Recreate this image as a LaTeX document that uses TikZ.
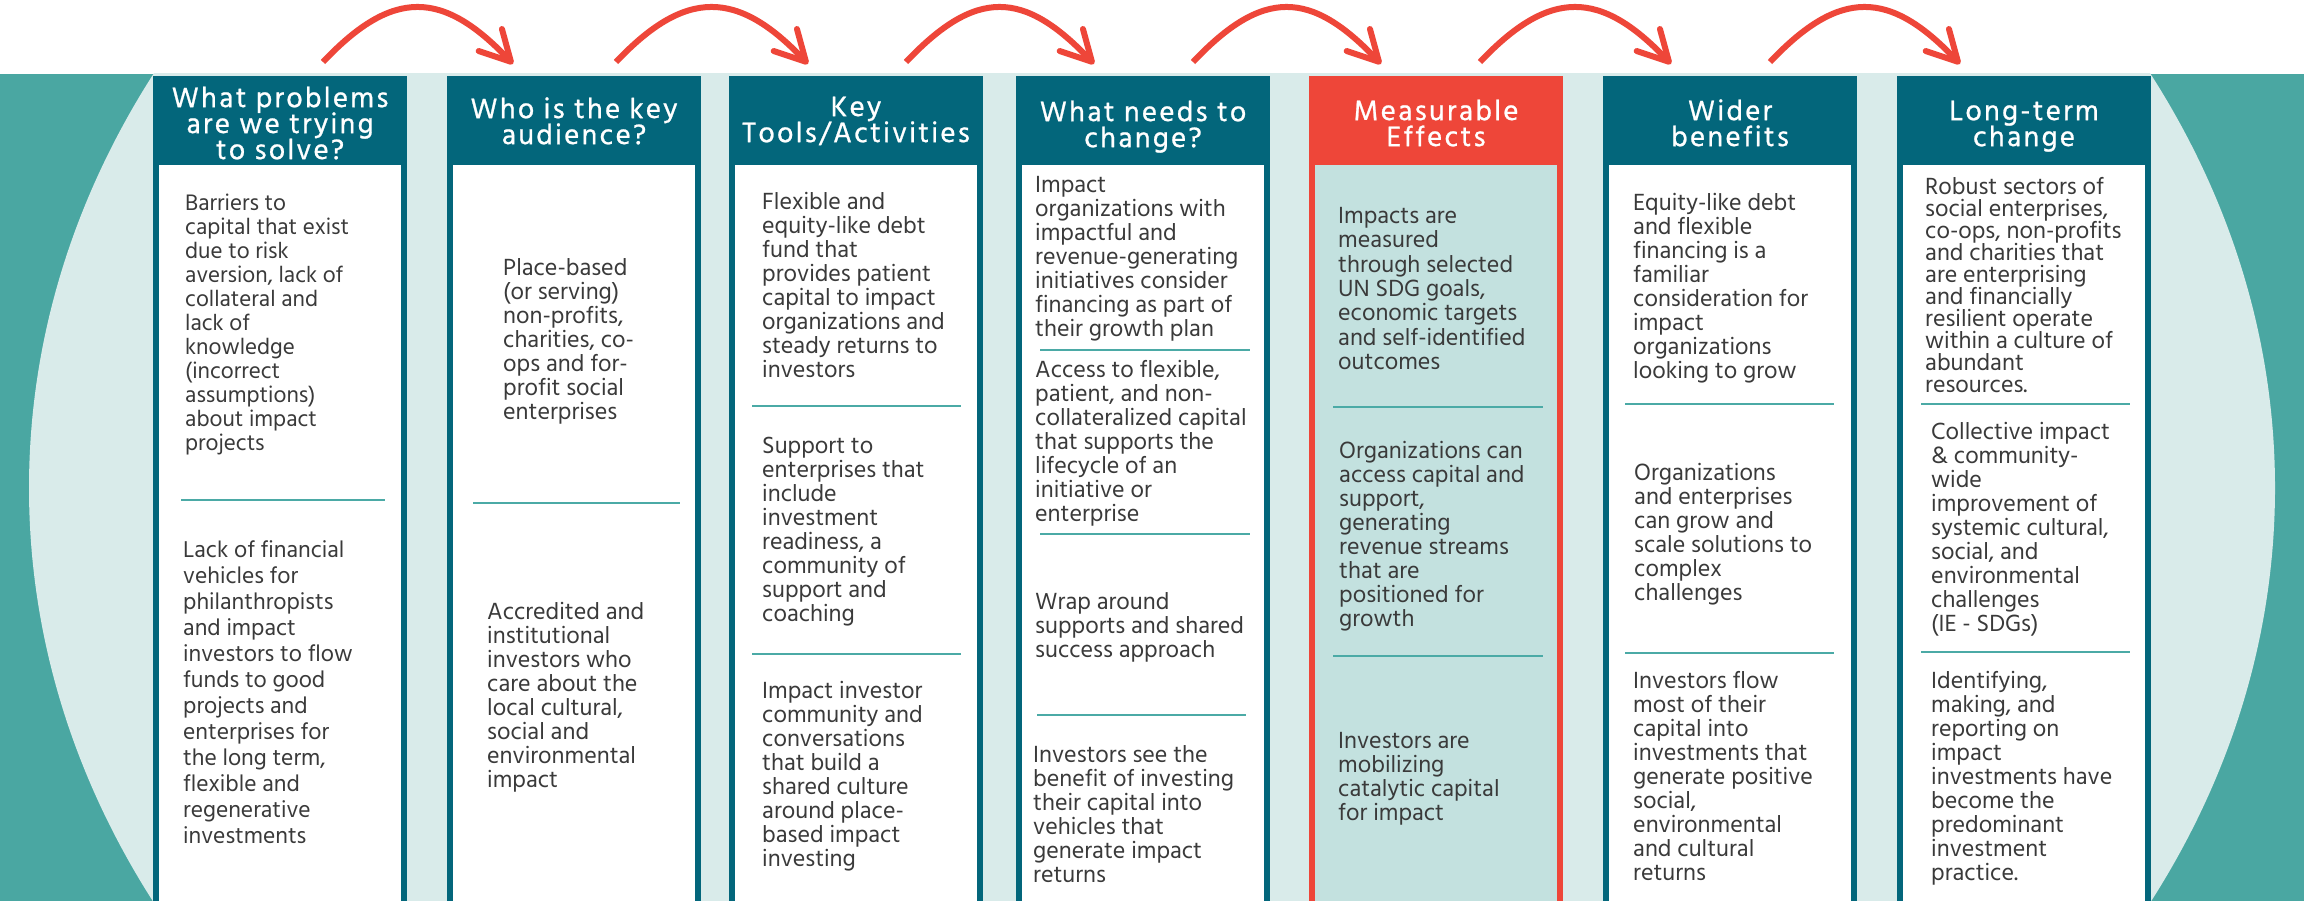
\documentclass[tikz,border=0pt]{standalone}
\usepackage{fontspec}
\usetikzlibrary{arrows.meta}
\newfontfamily\bodyf{Hind Madurai}
\newfontfamily\headf{Hind Madurai}[LetterSpace=8.0,FakeBold=0.8]
\definecolor{dteal}{HTML}{03667B}
\definecolor{lteal}{HTML}{D9EBEA}
\definecolor{mteal}{HTML}{4AA7A2}
\definecolor{redc}{HTML}{EE4639}
\definecolor{boxfill}{HTML}{C3E1DF}
\definecolor{septeal}{HTML}{4BAAA6}
\definecolor{txt}{HTML}{3A3A3A}
\newcommand\bodyfont[2]{\bodyf\fontsize{#1}{#2}\selectfont\lineskiplimit=-50pt\relax}
\newcommand\headfont{\headf\fontsize{29}{26}\selectfont\lineskiplimit=-50pt\relax}
\newcommand\fl{\rule{0pt}{20pt}}
\newcommand\hl{\rule{0pt}{24pt}}
\tikzset{
  body/.style 2 args={anchor=north west, inner sep=0pt, align=left, text=txt, font=\bodyfont{#1}{#2}},
  txtblock/.style={body={24}{24}},
  head/.style={anchor=north, inner sep=0pt, align=center, text=white, font=\headfont},
  sepline/.style={draw=septeal, line width=2.5pt},
  flow/.style={draw=redc, line width=6pt, -{Straight Barb[length=30pt,width=32pt,round]}},
}
\begin{document}
\begin{tikzpicture}[x=1pt,y=-1pt]
\useasboundingbox (0,0) rectangle (2304,901);
\fill[white] (0,0) rectangle (2304,901);
\fill[mteal] (0,74) rectangle (2304,901);
\begin{scope}
\clip (0,74) rectangle (2304,901);
\fill[lteal] (1152,488) ellipse [x radius=1123, y radius=904];
\end{scope}
% columns
\foreach \L in {153,447,729,1016,1603,1897}{
  \fill[dteal] (\L,76) rectangle (\L+254,905);
  \fill[white] (\L+6,165) rectangle (\L+248,905);
}
\fill[redc] (1309,76) rectangle (1563,905);
\fill[boxfill] (1315,165) rectangle (1557,905);
% headers
\node[head] (h1) at (280,83) {\hl What problems\\are we trying\\to solve?};
\node[head] (h2) at (574,94) {\hl Who is the key\\audience?};
\node[head] (h3) at (856,92) {\hl Key\\Tools/Activities};
\node[head] (h4) at (1143,97) {\hl What needs to\\change?};
\node[head] (h5) at (1436,96) {\hl Measurable\\Effects};
\node[head] (h6) at (1730,96) {\hl Wider\\benefits};
\node[head] (h7) at (2024,96) {\hl Long-term\\change};
% column 1
\node[body={23}{24}] (c1a) at (185,190) {\fl Barriers to\\capital that exist\\due to risk\\aversion, lack of\\collateral and\\lack of\\knowledge\\(incorrect\\assumptions)\\about impact\\projects};
\draw[sepline] (181,500) -- (385,500);
\node[body={23.5}{26}] (c1b) at (183,537) {\fl Lack of financial\\vehicles for\\philanthropists\\and impact\\investors to flow\\funds to good\\projects and\\enterprises for\\the long term,\\flexible and\\regenerative\\investments};
% column 2
\node[txtblock] (c2a) at (503,255) {\fl Place-based\\(or serving)\\non-profits,\\charities, co-\\ops and for-\\profit social\\enterprises};
\draw[sepline] (473,503) -- (680,503);
\node[txtblock] (c2b) at (487,599) {\fl Accredited and\\institutional\\investors who\\care about the\\local cultural,\\social and\\environmental\\impact};
% column 3
\node[txtblock] (c3a) at (762,189) {\fl Flexible and\\equity-like debt\\fund that\\provides patient\\capital to impact\\organizations and\\steady returns to\\investors};
\draw[sepline] (752,406) -- (961,406);
\node[txtblock] (c3b) at (762,433) {\fl Support to\\enterprises that\\include\\investment\\readiness, a\\community of\\support and\\coaching};
\draw[sepline] (752,654) -- (961,654);
\node[txtblock] (c3c) at (762,678) {\fl Impact investor\\community and\\conversations\\that build a\\shared culture\\around place-\\based impact\\investing};
% column 4
\node[txtblock] (c4a) at (1035,172) {\fl Impact\\organizations with\\impactful and\\revenue-generating\\initiatives consider\\financing as part of\\their growth plan};
\draw[sepline] (1040,350) -- (1250,350);
\node[txtblock] (c4b) at (1035,357) {\fl Access to flexible,\\patient, and non-\\collateralized capital\\that supports the\\lifecycle of an\\initiative or\\enterprise};
\draw[sepline] (1040,534) -- (1250,534);
\node[txtblock] (c4c) at (1035,589) {\fl Wrap around\\supports and shared\\success approach};
\draw[sepline] (1037,715) -- (1246,715);
\node[txtblock] (c4d) at (1033,742) {\fl Investors see the\\benefit of investing\\their capital into\\vehicles that\\generate impact\\returns};
% column 5
\node[body={24}{24.4}] (c5a) at (1338,203) {\fl Impacts are\\measured\\through selected\\UN SDG goals,\\economic targets\\and self-identified\\outcomes};
\draw[sepline] (1333,407) -- (1543,407);
\node[txtblock] (c5b) at (1339,438) {\fl Organizations can\\access capital and\\support,\\generating\\revenue streams\\that are\\positioned for\\growth};
\draw[sepline] (1333,656) -- (1543,656);
\node[txtblock] (c5c) at (1338,728) {\fl Investors are\\mobilizing\\catalytic capital\\for impact};
% column 6
\node[txtblock] (c6a) at (1633,190) {\fl Equity-like debt\\and flexible\\financing is a\\familiar\\consideration for\\impact\\organizations\\looking to grow};
\draw[sepline] (1625,404) -- (1834,404);
\node[txtblock] (c6b) at (1634,460) {\fl Organizations\\and enterprises\\can grow and\\scale solutions to\\complex\\challenges};
\draw[sepline] (1625,653) -- (1834,653);
\node[txtblock] (c6c) at (1633,668) {\fl Investors flow\\most of their\\capital into\\investments that\\generate positive\\social,\\environmental\\and cultural\\returns};
% column 7
\node[body={24}{22}] (c7a) at (1925,174) {\fl Robust sectors of\\social enterprises,\\co-ops, non-profits\\and charities that\\are enterprising\\and financially\\resilient operate\\within a culture of\\abundant\\resources.};
\draw[sepline] (1921,404) -- (2130,404);
\node[txtblock] (c7b) at (1931,419) {\fl Collective impact\\\& community-\\wide\\improvement of\\systemic cultural,\\social, and\\environmental\\challenges\\(IE - SDGs)};
\draw[sepline] (1921,652) -- (2130,652);
\node[txtblock] (c7c) at (1931,668) {\fl Identifying,\\making, and\\reporting on\\impact\\investments have\\become the\\predominant\\investment\\practice.};
% arrows
\foreach \i/\s/\e in {1/323/513,2/616/808,3/906/1094,4/1193/1381,5/1480/1671,6/1770/1960}{
  \coordinate (a\i s) at (\s,62);
  \coordinate (a\i e) at (\e,64);
  \draw[flow] (a\i s) .. controls +(70,-74) and +(-70,-74) .. (a\i e);
}
\end{tikzpicture}
\end{document}
